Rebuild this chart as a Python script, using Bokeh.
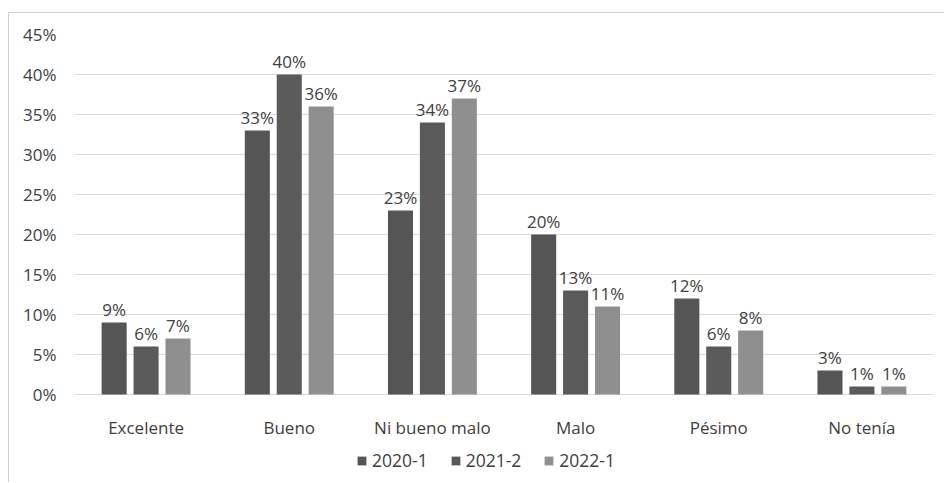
from bokeh.plotting import figure
from bokeh.models import (FactorRange, Range1d, ColumnDataSource, Legend, LegendItem,
                          FixedTicker, PrintfTickFormatter)
from bokeh.transform import dodge
from bokeh.core.properties import value
from bokeh.embed import file_html
from bokeh.resources import INLINE

# Survey rating per period, in percent
categories = ["Excelente", "Bueno", "Ni bueno malo", "Malo", "Pésimo", "No tenía"]
periods = ["2020-1", "2021-2", "2022-1"]
pct_2020_1 = [9, 33, 23, 20, 12, 3]
pct_2021_2 = [6, 40, 34, 13, 6, 1]
pct_2022_1 = [7, 36, 37, 11, 8, 1]
y_ticks = [0, 5, 10, 15, 20, 25, 30, 35, 40, 45]

series = [pct_2020_1, pct_2021_2, pct_2022_1]
colors = ["#555555", "#5b5b5b", "#8f8f8f"]
offsets = [-0.223, 0.0, 0.223]
bar_width = 0.175

FONT = "Open Sans"
TEXT_COLOR = "#404040"
GRID_COLOR = "#d9d9d9"

# The plot frame reaches down to the bottom edge so that the category names
# and the legend can sit beneath the 0% line inside it.
p = figure(
    x_range=FactorRange(factors=categories),
    y_range=Range1d(-11.125, 45),
    width=936, height=470,
    output_backend="svg", toolbar_location=None,
    min_border_left=65, min_border_right=12,
    min_border_top=21, min_border_bottom=0,
    background_fill_color="white", border_fill_color="white",
)
# Chart box: 8px from the left, 12px from the top, grey left and top edges
p.styles = {"margin-left": "8px", "margin-top": "12px",
            "border-left": "1px solid #d0d0d0", "border-top": "1px solid #d0d0d0"}
p.outline_line_color = None

# y axis: percent labels, no line or ticks
p.yaxis.ticker = FixedTicker(ticks=y_ticks)
p.yaxis.formatter = PrintfTickFormatter(format="%d%%")
p.yaxis.axis_line_color = None
p.yaxis.major_tick_line_color = None
p.yaxis.minor_tick_line_color = None
p.yaxis.major_tick_in = 0
p.yaxis.major_tick_out = 0
p.yaxis.major_label_standoff = 18
p.yaxis.major_label_text_font = FONT
p.yaxis.major_label_text_font_size = "17px"
p.yaxis.major_label_text_color = TEXT_COLOR

p.xaxis.visible = False
p.xgrid.grid_line_color = None
p.ygrid.grid_line_color = GRID_COLOR
p.ygrid.grid_line_width = 1

# Category names under the 0% line
cat_src = ColumnDataSource(dict(cat=categories, base=[0] * len(categories)))
p.text(x="cat", y="base", text="cat", source=cat_src,
       text_align="center", text_baseline="alphabetic", y_offset=33,
       text_font=value(FONT), text_font_size="17px", text_color=TEXT_COLOR)

items = []
for name, vals, color, off in zip(periods, series, colors, offsets):
    src = ColumnDataSource(dict(cat=categories, val=vals, label=[f"{v}%" for v in vals]))
    r = p.vbar(x=dodge("cat", off, range=p.x_range), top="val", width=bar_width,
               source=src, fill_color=color, line_color=None)
    p.text(x=dodge("cat", off, range=p.x_range), y="val", text="label", source=src,
           text_align="center", text_baseline="alphabetic", y_offset=-13,
           text_font=value(FONT), text_font_size="17px", text_color=TEXT_COLOR)
    items.append(LegendItem(label=name, renderers=[r]))

legend = Legend(
    items=items, orientation="horizontal", location=(282, 11),
    glyph_width=11, glyph_height=11, label_standoff=5, spacing=22,
    padding=0, margin=0, border_line_color=None, background_fill_alpha=0,
    label_text_font=FONT, label_text_font_size="17.5px", label_text_color=TEXT_COLOR,
    label_height=20,
)
p.add_layout(legend, "center")

open("out.html", "w").write(file_html(p, INLINE))
